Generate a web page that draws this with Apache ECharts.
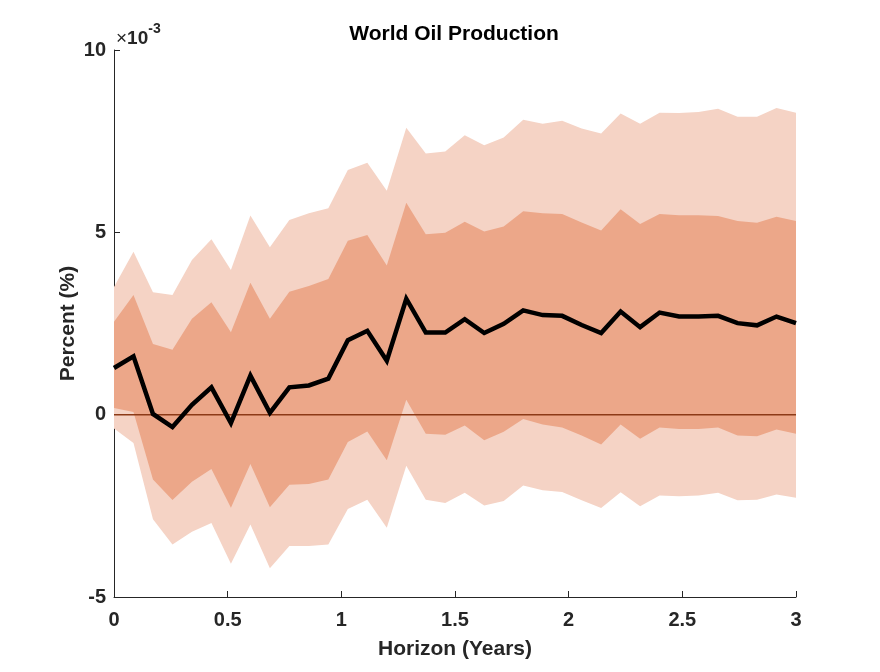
<!DOCTYPE html>
<html>
<head>
<meta charset="utf-8">
<script src="https://cdn.jsdelivr.net/npm/echarts@6/dist/echarts.min.js"></script>
<style>html,body{margin:0;padding:0;background:#fff}#c{width:880px;height:672px}</style>
</head>
<body>
<div id="c"></div>
<script>
// Values in units of 1e-3 percent
const nPts = 36;
const horizon = Array.from({length: nPts}, (_, i) => 3 * i / (nPts - 1));
const median = [1.28, 1.60, 0.02, -0.34, 0.27, 0.75, -0.23, 1.07, 0.05, 0.75, 0.80, 0.99, 2.04, 2.30, 1.48, 3.18, 2.25, 2.25, 2.62, 2.24, 2.49, 2.86, 2.73, 2.71, 2.46, 2.24, 2.83, 2.40, 2.80, 2.69, 2.69, 2.71, 2.51, 2.45, 2.69, 2.51];
const upper68 = [2.55, 3.28, 1.94, 1.78, 2.63, 3.08, 2.26, 3.62, 2.63, 3.37, 3.53, 3.72, 4.77, 4.93, 4.09, 5.81, 4.95, 4.99, 5.29, 5.02, 5.16, 5.58, 5.52, 5.50, 5.27, 5.05, 5.63, 5.23, 5.50, 5.47, 5.47, 5.45, 5.31, 5.26, 5.43, 5.31];
const lower68 = [0.18, 0.07, -1.78, -2.34, -1.84, -1.49, -2.55, -1.35, -2.54, -1.92, -1.90, -1.78, -0.75, -0.46, -1.25, 0.41, -0.52, -0.55, -0.30, -0.70, -0.47, -0.12, -0.27, -0.35, -0.57, -0.82, -0.27, -0.66, -0.35, -0.39, -0.39, -0.35, -0.57, -0.59, -0.41, -0.52];
const upper90 = [3.50, 4.47, 3.36, 3.28, 4.24, 4.81, 3.97, 5.46, 4.59, 5.34, 5.52, 5.66, 6.71, 6.91, 6.14, 7.87, 7.16, 7.22, 7.66, 7.39, 7.60, 8.09, 7.98, 8.06, 7.85, 7.71, 8.26, 7.98, 8.28, 8.27, 8.30, 8.39, 8.17, 8.17, 8.41, 8.28];
const lower90 = [-0.38, -0.78, -2.87, -3.56, -3.21, -2.97, -4.09, -3.01, -4.21, -3.60, -3.60, -3.56, -2.59, -2.33, -3.10, -1.40, -2.33, -2.42, -2.14, -2.49, -2.37, -1.94, -2.07, -2.12, -2.35, -2.56, -2.13, -2.51, -2.22, -2.24, -2.22, -2.14, -2.35, -2.33, -2.19, -2.28];
const xTicks = [0, 0.5, 1, 1.5, 2, 2.5, 3];
const yTicks = [-5, 0, 5, 10];

const pairs = arr => horizon.map((x, i) => [x, arr[i]]);
const bandData = (lo, hi) => horizon.map((x, i) => [x, lo[i], hi[i]]);

const LIGHT = '#F5D3C5', DARK = '#ECA789', AX = '#262626';
const font = 'Liberation Sans, Arial, sans-serif';

// One polygon per band, built through the axes with api.coord
function bandSeries(lo, hi, color, z) {
  const data = bandData(lo, hi);
  return {
    type: 'custom', silent: true, z: z, clip: true,
    encode: {x: 0, y: [1, 2]},
    data: data,
    renderItem: function (params, api) {
      if (params.dataIndex !== 0) return null;
      const top = data.map(d => api.coord([d[0], d[2]]));
      const bot = data.map(d => api.coord([d[0], d[1]])).reverse();
      return {type: 'polygon', shape: {points: top.concat(bot)},
        style: {fill: color, stroke: null}};
    }
  };
}

const chart = echarts.init(document.getElementById('c'), null, {renderer: 'canvas'});
chart.setOption({
  animation: false,
  backgroundColor: '#fff',
  grid: {left: 114, right: 84, top: 50, bottom: 75},
  xAxis: {type: 'value', min: 0, max: 3, interval: 0.5,
    name: 'Horizon (Years)', nameLocation: 'middle', nameGap: 42, nameMoveOverlap: false,
    nameTextStyle: {fontFamily: font, fontWeight: 'bold', fontSize: 21, color: AX},
    axisLine: {onZero: false, lineStyle: {color: AX, width: 1}},
    axisTick: {inside: true, length: 6, lineStyle: {color: AX}},
    axisLabel: {fontFamily: font, fontWeight: 'bold', fontSize: 20, color: AX, margin: 13,
      formatter: v => xTicks.includes(v) ? String(v) : ''},
    splitLine: {show: false}},
  yAxis: {type: 'value', min: -5, max: 10, interval: 5,
    name: 'Percent (%)', nameLocation: 'middle', nameGap: 35, nameRotate: 90, nameMoveOverlap: false,
    nameTextStyle: {fontFamily: font, fontWeight: 'bold', fontSize: 21, color: AX},
    axisLine: {show: true, onZero: false, lineStyle: {color: AX, width: 1}},
    axisTick: {show: true, inside: true, length: 6, lineStyle: {color: AX}},
    axisLabel: {fontFamily: font, fontWeight: 'bold', fontSize: 20, color: AX, margin: 8,
      formatter: v => yTicks.includes(v) ? String(v) : ''},
    splitLine: {show: false}},
  graphic: [
    {type: 'text', x: 454, y: 34, z: 100,
      style: {text: 'World Oil Production', fontFamily: font, fontWeight: 'bold', fontSize: 21,
        fill: '#000', textAlign: 'center', textVerticalAlign: 'middle'}},
    {type: 'text', left: 116, top: 22, z: 100,
      style: {text: '{x|×}{a|10}{b|-3}', rich: {
        x: {fontFamily: font, fontSize: 19, fill: AX, verticalAlign: 'bottom', lineHeight: 26},
        a: {fontFamily: font, fontSize: 19, fontWeight: 'bold', fill: AX, verticalAlign: 'bottom', lineHeight: 26},
        b: {fontFamily: font, fontSize: 14, fontWeight: 'bold', fill: AX, verticalAlign: 'top', lineHeight: 26}}}}
  ],
  series: [
    bandSeries(lower90, upper90, LIGHT, 1),
    bandSeries(lower68, upper68, DARK, 2),
    {type: 'line', name: 'zero', data: [[0, 0], [3, 0]], symbol: 'none', silent: true, z: 3,
      lineStyle: {color: '#8C3A17', width: 1.5}},
    {type: 'line', name: 'median', data: pairs(median), symbol: 'none', z: 4,
      lineStyle: {color: '#000', width: 4.5, join: 'miter'}}
  ]
});
</script>
</body>
</html>
